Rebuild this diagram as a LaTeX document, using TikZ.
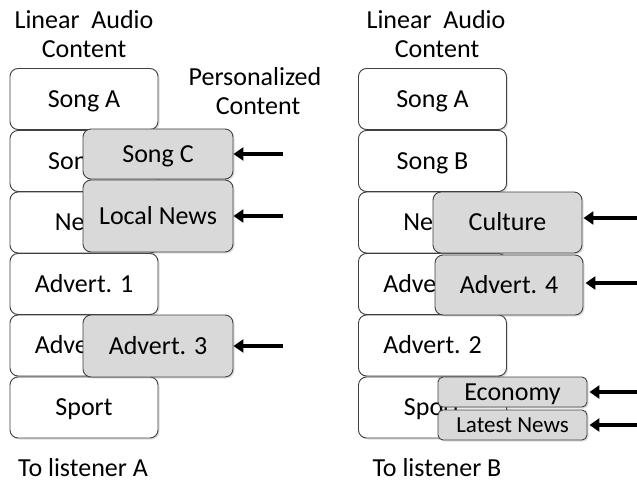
\documentclass[tikz,border=0pt]{standalone}
\usepackage{fontspec}
\setmainfont{Carlito}
\usetikzlibrary{arrows.meta,shadows}
\definecolor{edge}{HTML}{404040}
\definecolor{grayfill}{HTML}{D9D9D9}
\tikzset{
  lin/.style={draw=edge, line width=0.9pt, fill=white, rounded corners=8pt,
    minimum width=148pt, minimum height=61pt, inner sep=0pt,
    font=\fontsize{26}{31}\selectfont, text height=16.5pt, text depth=0pt,
    drop shadow={shadow xshift=1.5pt, shadow yshift=-1.5pt, opacity=0.25}},
  pers/.style={lin, fill=grayfill, minimum width=150pt},
  small/.style={pers, rounded corners=5pt, minimum height=30pt},
  lbl/.style={font=\fontsize{26}{31}\selectfont, anchor=base, inner sep=0pt},
  feed/.style={line width=3.5pt, -{Triangle[length=10pt,width=13pt]}, black},
}
\begin{document}
\begin{tikzpicture}[x=1pt,y=-1pt]
\useasboundingbox (0,0) rectangle (637,484);
% left column headings
\node[lbl] (la1) at (84,29) {Linear\ \ Audio};
\node[lbl] (la2) at (84,58) {Content};
\node[lbl] (pc1) at (255,86) {Personalized};
\node[lbl] (pc2) at (258,115) {Content};
\node[lbl] (ta) at (83,476) {To listener A};
% right column headings
\node[lbl] (lb1) at (436,29) {Linear\ \ Audio};
\node[lbl] (lb2) at (437,58) {Content};
\node[lbl] (tb) at (437,476) {To listener B};
% left linear boxes
\node[lin] (a1) at (84,99) {Song A};
\node[lin] (a2) at (84,161) {Song B};
\node[lin] (a3) at (84,222.5) {News};
\node[lin] (a4) at (84,284) {Advert. 1};
\node[lin] (a5) at (84,345.5) {Advert. 2};
\node[lin] (a6) at (84,407.5) {Sport};
% right linear boxes
\node[lin] (b1) at (432.5,99) {Song A};
\node[lin] (b2) at (432.5,161) {Song B};
\node[lin] (b3) at (432.5,222.5) {News};
\node[lin] (b4) at (432.5,284) {Advert. 1};
\node[lin] (b5) at (432.5,345.5) {Advert. 2};
\node[lin] (b6) at (432.5,407.5) {Sport};
% left personalized
\node[pers, minimum height=50pt] (pa1) at (158,154) {Song C};
\node[pers, minimum height=72pt] (pa2) at (158,216) {Local News};
\node[pers, minimum height=62pt] (pa3) at (158,346) {Advert. 3};
% right personalized
\node[pers, minimum width=149pt] (pb1) at (507.5,222.5) {Culture};
\node[pers, minimum width=148pt, minimum height=60pt] (pb2) at (509,285) {Advert. 4};
\node[small, minimum width=149pt] (pb3) at (512.5,392) {Economy};
\node[small, minimum width=149pt, font=\fontsize{23}{27}\selectfont, text height=14.5pt] (pb4) at (512.5,425) {Latest News};
% arrow origins
\coordinate (ea1) at (283,154);
\coordinate (ea2) at (283,216);
\coordinate (ea3) at (283,346);
\coordinate (eb1) at (637,218);
\coordinate (eb2) at (637,283);
\coordinate (eb3) at (637,392);
\coordinate (eb4) at (637,425);
\draw[feed] (ea1) -- (pa1.east |- ea1);
\draw[feed] (ea2) -- (pa2.east |- ea2);
\draw[feed] (ea3) -- (pa3.east |- ea3);
\draw[feed] (eb1) -- ([xshift=1pt]pb1.east |- eb1);
\draw[feed] (eb2) -- ([xshift=2pt]pb2.east |- eb2);
\draw[feed] (eb3) -- ([xshift=2pt]pb3.east |- eb3);
\draw[feed] (eb4) -- ([xshift=2pt]pb4.east |- eb4);
\end{tikzpicture}
\end{document}
